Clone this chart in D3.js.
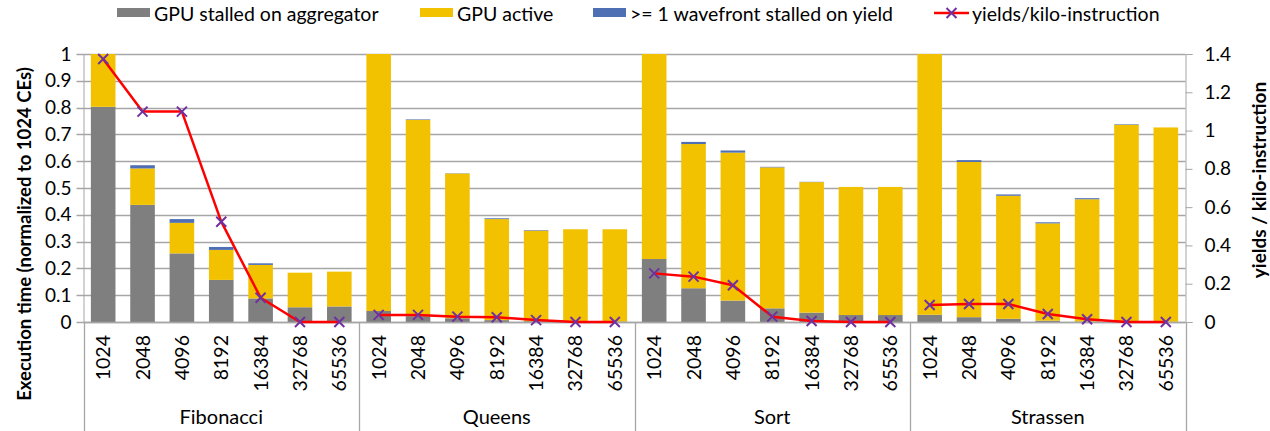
<!DOCTYPE html>
<html><head><meta charset="utf-8">
<script src="https://cdn.jsdelivr.net/npm/d3@7"></script>
<style>body{margin:0;background:#fff}svg{display:block;font-family:Lato,"Open Sans",sans-serif}</style>
</head><body><svg id="c" width="1270" height="431"></svg>
<script>
const groups = ["Fibonacci","Queens","Sort","Strassen"];
const sizes = ["1024","2048","4096","8192","16384","32768","65536"];
const stalled = [0.803,0.437,0.256,0.157,0.088,0.055,0.058,
                 0.041,0.022,0.014,0.007,0.003,0.002,0.002,
                 0.235,0.126,0.080,0.051,0.035,0.026,0.026,
                 0.027,0.018,0.012,0.005,0.002,0.001,0.001];
const active = [0.197,0.136,0.114,0.112,0.125,0.129,0.130,
                0.959,0.732,0.540,0.377,0.338,0.344,0.344,
                0.765,0.538,0.552,0.526,0.487,0.478,0.478,
                0.973,0.579,0.459,0.363,0.456,0.735,0.725];
const wavefront = [0,0.012,0.014,0.011,0.006,0,0,
                   0,0.002,0.001,0.003,0.002,0,0,
                   0,0.008,0.008,0.002,0.001,0,0,
                   0,0.007,0.005,0.004,0.004,0.002,0];
const yields = [1.374,1.099,1.099,0.524,0.127,0,0,
                0.037,0.037,0.028,0.025,0.010,0,0,
                0.254,0.237,0.192,0.028,0.005,0,0,
                0.089,0.094,0.094,0.042,0.014,0,0];
const leftTicks = [0,0.1,0.2,0.3,0.4,0.5,0.6,0.7,0.8,0.9,1];
const rightTicks = [0,0.2,0.4,0.6,0.8,1,1.2,1.4];
const seriesNames = ["GPU stalled on aggregator","GPU active",">= 1 wavefront stalled on yield","yields/kilo-instruction"];
const colors = ["#7f7f7f","#f2c200","#4f6fb4"];

const svg = d3.select("#c");
const L = 83.5, R = 1185.5, T = 54, B = 322;
const keys = [];
groups.forEach(g => sizes.forEach(s => keys.push(g + "|" + s)));
const x = d3.scaleBand().domain(keys).range([L, R]).paddingInner(0.375).paddingOuter(0.1875);
const y = d3.scaleLinear().domain([0, 1]).range([B, T]);
const y2 = d3.scaleLinear().domain([0, 1.4]).range([B, T]);
const gridColor = "#a6a6a6";

// gridlines
svg.append("g").selectAll("line").data(leftTicks).join("line")
  .attr("x1", L - 7).attr("x2", R).attr("y1", d => Math.round(y(d)) + 0.5).attr("y2", d => Math.round(y(d)) + 0.5)
  .attr("stroke", gridColor).attr("stroke-width", 1.3);

// left axis
const la = svg.append("g").attr("transform", `translate(${L},0)`)
  .call(d3.axisLeft(y).tickValues(leftTicks).tickFormat(d3.format("~g")).tickSize(0).tickPadding(12));
la.select(".domain").attr("stroke", gridColor);
la.selectAll("text").attr("font-size", 19).attr("fill", "#000").attr("font-family", "Lato");

// right axis
const ra = svg.append("g").attr("transform", `translate(${R},0)`)
  .call(d3.axisRight(y2).tickValues(rightTicks).tickFormat(d3.format("~g")).tickSize(7).tickPadding(12));
ra.select(".domain").attr("stroke", gridColor);
ra.selectAll("line").attr("stroke", gridColor);
ra.selectAll("text").attr("font-size", 19).attr("fill", "#000").attr("font-family", "Lato");

// stacked bars
const stackData = keys.map((k, i) => ({key: k, s: stalled[i], a: active[i], w: wavefront[i]}));
const stack = d3.stack().keys(["s","a","w"])(stackData);
svg.append("g").selectAll("g").data(stack).join("g").attr("fill", (d, i) => colors[i])
  .selectAll("rect").data(d => d).join("rect")
  .attr("x", d => x(d.data.key)).attr("width", x.bandwidth())
  .attr("y", d => y(d[1])).attr("height", d => Math.max(0, y(d[0]) - y(d[1])));

// bottom axis line
svg.append("line").attr("x1", L).attr("x2", R).attr("y1", B + 0.5).attr("y2", B + 0.5).attr("stroke", gridColor).attr("stroke-width", 1.3);
// group separators
const sepX = [L].concat(groups.map((g, gi) => L + (R - L) * (gi + 1) / groups.length));
svg.append("g").selectAll("line").data(sepX).join("line")
  .attr("x1", d => Math.round(d) + 0.5).attr("x2", d => Math.round(d) + 0.5).attr("y1", B).attr("y2", 431)
  .attr("stroke", gridColor).attr("stroke-width", 1.3);

// category labels
svg.append("g").selectAll("text").data(keys).join("text")
  .attr("transform", d => `translate(${x(d) + x.bandwidth() / 2 + 7},335) rotate(-90)`)
  .attr("text-anchor", "end").attr("font-size", 19.5).text(d => d.split("|")[1]);
// group labels
svg.append("g").selectAll("text").data(groups).join("text")
  .attr("x", (d, i) => (sepX[i] + sepX[i + 1]) / 2).attr("y", 424)
  .attr("text-anchor", "middle").attr("font-size", 20).text(d => d);

// yields line per group
const line = d3.line().x(d => x(d.key) + x.bandwidth() / 2).y(d => y2(d.v));
const lineData = groups.map((g, gi) => sizes.map((s, si) => ({key: g + "|" + s, v: yields[gi * sizes.length + si]})));
svg.append("g").selectAll("path").data(lineData).join("path")
  .attr("d", line).attr("fill", "none").attr("stroke", "#ff0000").attr("stroke-width", 2.5).attr("stroke-linejoin", "round");
const xMark = (cx, cy, r) => `M${cx - r},${cy - r}L${cx + r},${cy + r}M${cx - r},${cy + r}L${cx + r},${cy - r}`;
svg.append("g").selectAll("path").data(lineData.flat()).join("path")
  .attr("d", d => xMark(x(d.key) + x.bandwidth() / 2, y2(d.v), 5))
  .attr("stroke", "#7030a0").attr("stroke-width", 2).attr("fill", "none");

// axis titles
svg.append("text").attr("transform", "translate(31,234) rotate(-90)").attr("text-anchor", "middle")
  .attr("font-size", 18.5).attr("font-weight", "bold").text("Execution time (normalized to 1024 CEs)");
svg.append("text").attr("transform", "translate(1266,180) rotate(-90)").attr("text-anchor", "middle")
  .attr("font-size", 19).attr("font-weight", "bold").text("yields / kilo-instruction");

// legend
const lg = svg.append("g");
const legX = [117, 420, 593];
[0,1,2].forEach(i => {
  lg.append("rect").attr("x", legX[i]).attr("y", 8).attr("width", 33).attr("height", 9).attr("fill", colors[i]);
  lg.append("text").attr("x", legX[i] + 37).attr("y", 20.5).attr("font-size", 19.5).text(seriesNames[i]);
});
lg.append("line").attr("x1", 934).attr("x2", 969).attr("y1", 13).attr("y2", 13).attr("stroke", "#ff0000").attr("stroke-width", 2.5);
lg.append("path").attr("d", xMark(951.5, 13, 5)).attr("stroke", "#7030a0").attr("stroke-width", 2).attr("fill", "none");
lg.append("text").attr("x", 972).attr("y", 20.5).attr("font-size", 19.5).text(seriesNames[3]);
</script></body></html>
